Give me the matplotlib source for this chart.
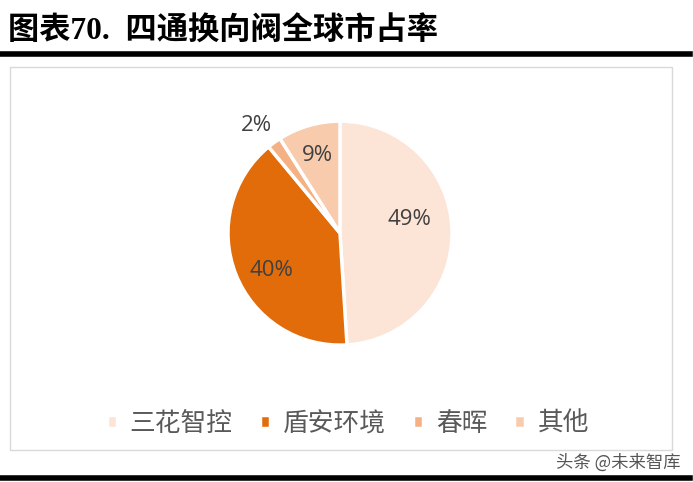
import numpy as np
import matplotlib.pyplot as plt
from matplotlib.patches import Rectangle
from matplotlib.lines import Line2D

plt.rcParams['font.family'] = ['Noto Sans CJK SC', 'DejaVu Sans']

# 数据
categories = ['三花智控', '盾安环境', '春晖', '其他']
shares = [49, 40, 2, 9]
colors = ['#FCE4D6', '#E26B0A', '#F4B183', '#F8CBAD']

fig = plt.figure(figsize=(6.93, 4.82), dpi=100)

# 标题与横线
fig.text(0.012, 0.935, '图表70.  四通换向阀全球市占率', fontsize=22.5, fontweight='bold',
         color='black', va='center', ha='left',
         family=['Liberation Serif', 'Noto Sans CJK SC'])
fig.add_artist(Line2D([0.0, 0.996], [0.889, 0.889], color='black', lw=4))
fig.add_artist(Line2D([0.0, 0.996], [0.008, 0.008], color='black', lw=4))
# 图框
fig.add_artist(Rectangle((0.014, 0.066), 0.955, 0.795, fill=False,
                         edgecolor='#D9D9D9', lw=1))

ax = fig.add_axes([0.329, 0.284, 0.3232, 0.4647])
wedges, texts, autotexts = ax.pie(shares, colors=colors, startangle=90, counterclock=False,
                                  autopct='%d%%', pctdistance=0.66,
                                  wedgeprops=dict(edgecolor='white', linewidth=2.5),
                                  textprops=dict(fontsize=16, color='#404040',
                                                 family=['Open Sans', 'DejaVu Sans']))
ax.set_xlim(-1, 1)
ax.set_ylim(-1, 1)
ax.set_aspect('equal')
# 调整标签位置
x0, y0 = autotexts[0].get_position()
autotexts[0].set_position((x0 - 0.04, y0 + 0.1))
x1, y1 = autotexts[1].get_position()
autotexts[1].set_position((x1, y1 - 0.09))
w = wedges[2]
ang = np.deg2rad((w.theta1 + w.theta2) / 2)
autotexts[2].set_position((1.22 * np.cos(ang) - 0.03, 1.22 * np.sin(ang) - 0.03))
x9, y9 = autotexts[3].get_position()
autotexts[3].set_position((x9 * 1.1, y9 * 1.1))

leg = fig.legend(wedges, categories, loc='center', bbox_to_anchor=(0.502, 0.12), ncol=4,
                 frameon=False, fontsize=18.5, handlelength=0.4, handleheight=0.4,
                 handletextpad=0.5, columnspacing=1.05)
for t in leg.get_texts():
    t.set_color('#595959')

fig.text(0.982, 0.041, '头条 @未来智库', fontsize=12.5, color='#555555', ha='right', va='center')

fig.savefig('out.png', dpi=100)
